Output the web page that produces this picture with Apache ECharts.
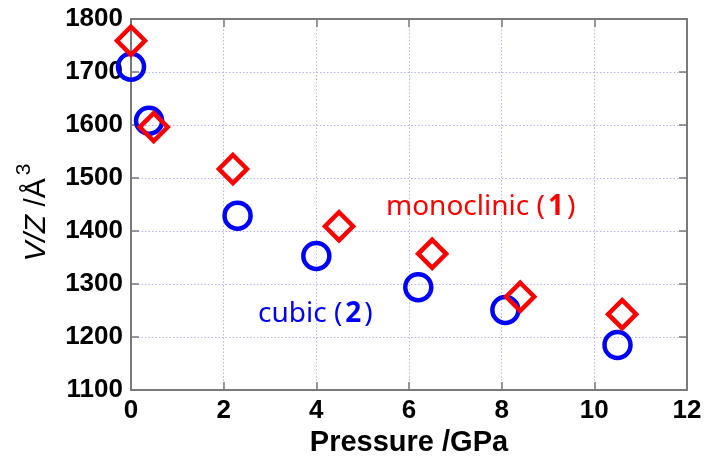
<!DOCTYPE html>
<html><head><meta charset="utf-8">
<script src="https://cdn.jsdelivr.net/npm/echarts@6/dist/echarts.min.js"></script>
<style>html,body{margin:0;padding:0;background:#fff}#c{width:708px;height:467px}</style>
</head><body><div id="c"></div>
<script>
// Data
const cubicPressure = [0.0, 0.39, 2.3, 4.0, 6.2, 8.08, 10.5];
const cubicVolume   = [1710, 1608, 1429, 1353, 1294, 1251, 1185];
const monoPressure  = [0.0, 0.49, 2.2, 4.49, 6.5, 8.4, 10.6];
const monoVolume    = [1759, 1596, 1517, 1409, 1357, 1276, 1243];
const xTicks = [0, 2, 4, 6, 8, 10, 12];
const yTicks = [1100, 1200, 1300, 1400, 1500, 1600, 1700, 1800];
const labelMono = 'monoclinic';
const labelCubic = 'cubic';

const chart = echarts.init(document.getElementById('c'), null, {renderer: 'canvas'});
const tickFont = 'Liberation Sans';
const axisColor = '#7a7a7a';
const gridColor = '#b4b4ff';

function axisBase(isX, pos, show) {
  const ticks = isX ? xTicks : yTicks;
  return {
    type: 'value', position: pos, min: ticks[0], max: ticks[ticks.length-1], interval: ticks[1]-ticks[0],
    axisLine: {show: true, onZero: false, lineStyle: {color: axisColor, width: 2}},
    axisTick: {show: true, inside: true, length: 8, lineStyle: {color: axisColor, width: 1.5}},
    axisLabel: {show: show, color: '#000', fontFamily: tickFont, fontWeight: 'bold', fontSize: 26, margin: 8,
      formatter: v => String(v)},
    splitLine: {show: show, lineStyle: {color: gridColor, type: [1.5, 2], width: 1}}
  };
}

const xBottom = axisBase(true, 'bottom', true);
xBottom.name = 'Pressure /GPa';
xBottom.nameLocation = 'middle';
xBottom.nameGap = 36;
xBottom.nameTextStyle = {color: '#000', fontFamily: tickFont, fontWeight: 'bold', fontSize: 29};
const yLeft = axisBase(false, 'left', true);
yLeft.name = '{i|V/Z} /Å{s|3}';
yLeft.nameLocation = 'middle';
yLeft.nameRotate = 90;
yLeft.nameGap = 72;
yLeft.nameTextStyle = {
  color: '#000', fontFamily: tickFont, fontSize: 30,
  padding: [0, 16, 0, 0],
  rich: {
    i: {fontStyle: 'italic', fontFamily: tickFont, fontSize: 30, color: '#000'},
    s: {fontFamily: tickFont, fontSize: 21, color: '#000', verticalAlign: 'bottom', padding: [0,0,24,3]}
  }
};

const option = {
  backgroundColor: '#fff',
  animation: false,
  grid: {left: 131, right: 21, top: 19, bottom: 77, containLabel: false},
  xAxis: [xBottom, axisBase(true, 'top', false)],
  yAxis: [yLeft, axisBase(false, 'right', false)],
  series: [
    {
      type: 'scatter', xAxisIndex: 0, yAxisIndex: 0,
      data: cubicPressure.map((p, i) => [p, cubicVolume[i]]),
      symbol: 'circle', symbolSize: 26,
      itemStyle: {color: 'rgba(0,0,0,0)', borderColor: '#0000ff', borderWidth: 4.5, opacity: 1},
      z: 3
    },
    {
      type: 'scatter', xAxisIndex: 0, yAxisIndex: 0,
      data: monoPressure.map((p, i) => [p, monoVolume[i]]),
      symbol: 'diamond', symbolSize: 28,
      itemStyle: {color: 'rgba(0,0,0,0)', borderColor: '#ff0000', borderWidth: 4.5, opacity: 1},
      z: 4
    }
  ],
  graphic: [
    {
      type: 'text', left: 386, top: 193, z: 10,
      style: {
        text: '{n|' + labelMono + ' (}{b|1}{n|)}',
        rich: {
          n: {fontFamily: 'Noto Sans', fontSize: 28, fill: '#ff0000'},
          b: {fontFamily: 'Noto Sans', fontSize: 28, fontWeight: 'bold', fill: '#ff0000', padding: [0, 3]}
        }
      }
    },
    {
      type: 'text', left: 258, top: 300, z: 10,
      style: {
        text: '{n|' + labelCubic + ' (}{b|2}{n|)}',
        rich: {
          n: {fontFamily: 'Noto Sans', fontSize: 28, fill: '#0000ff'},
          b: {fontFamily: 'Noto Sans', fontSize: 28, fontWeight: 'bold', fill: '#0000ff', padding: [0, 3]}
        }
      }
    }
  ]
};
chart.setOption(option);
</script>
</body></html>
